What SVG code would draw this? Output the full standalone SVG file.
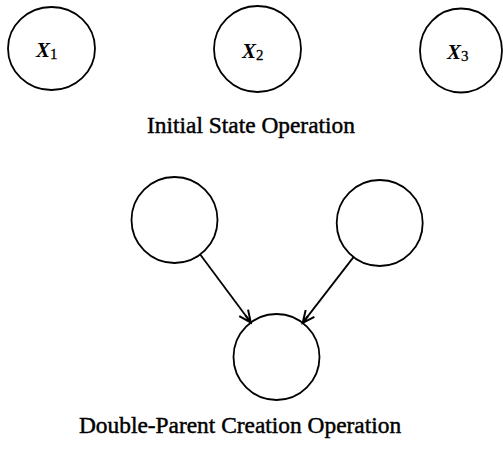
<svg xmlns="http://www.w3.org/2000/svg" width="503" height="449" viewBox="0 0 503 449">
<style>
.node{fill:#fff;stroke:#000;stroke-width:1.8}
.lbl{font-family:'Liberation Serif','DejaVu Serif',serif;font-size:21px;font-style:italic;font-weight:bold;fill:#000}
.sub{font-style:normal;font-weight:normal;font-size:15px;stroke:#000;stroke-width:0.3}
.cap{font-family:'Liberation Serif','DejaVu Serif',serif;font-size:23.4px;fill:#000;stroke:#000;stroke-width:0.45;text-anchor:middle}
.edge{stroke:#000;stroke-width:1.8;fill:none}
</style>
<defs>
<marker id="arr" markerUnits="userSpaceOnUse" markerWidth="16" markerHeight="14" refX="13" refY="7" orient="auto">
<path d="M1,1.5 L13,7 L1,12.5 M4,7 L13,7" fill="none" stroke="#000" stroke-width="2"/>
</marker>
</defs>
<g id="x1"><ellipse class="node" cx="51.5" cy="48.5" rx="43.5" ry="41.5"/><text class="lbl" x="36" y="57">X<tspan class="sub" dy="2">1</tspan></text></g>
<g id="x2"><ellipse class="node" cx="257.5" cy="49" rx="43.5" ry="43"/><text class="lbl" x="242" y="58">X<tspan class="sub" dy="2">2</tspan></text></g>
<g id="x3"><ellipse class="node" cx="461" cy="50.5" rx="41" ry="42"/><text class="lbl" x="447" y="59">X<tspan class="sub" dy="2">3</tspan></text></g>
<text id="cap1" class="cap" x="251" y="133">Initial State Operation</text>
<g id="p1"><circle class="node" cx="174.5" cy="220" r="43"/></g>
<g id="p2"><circle class="node" cx="379.7" cy="223" r="43"/></g>
<g id="child"><circle class="node" cx="276.5" cy="357" r="43"/></g>
<g id="connectors">
<line class="edge" x1="200.2" y1="254.5" x2="250.8" y2="322.5" marker-end="url(#arr)"/>
<line class="edge" x1="353.5" y1="257.1" x2="302.7" y2="322.9" marker-end="url(#arr)"/>
</g>
<text id="cap2" class="cap" x="240" y="433">Double-Parent Creation Operation</text>
</svg>
